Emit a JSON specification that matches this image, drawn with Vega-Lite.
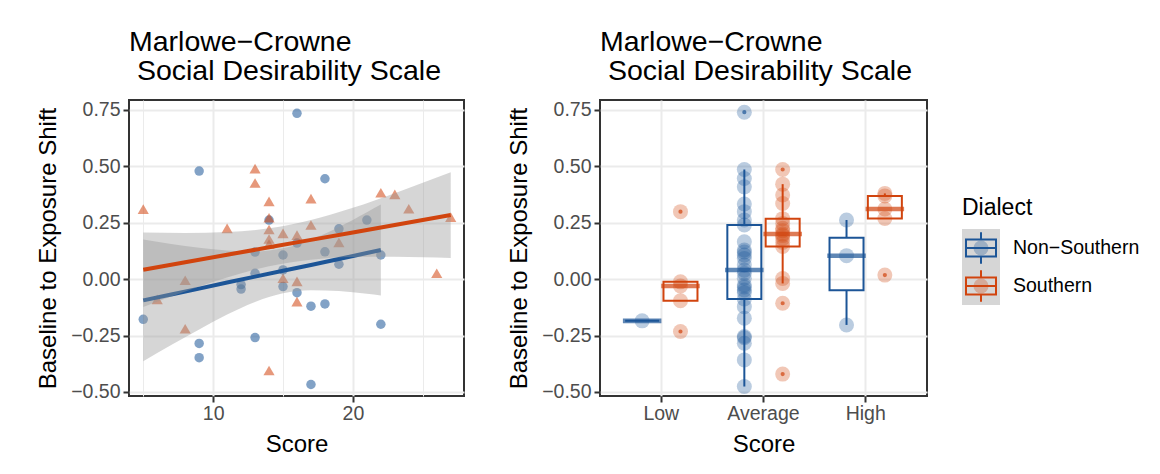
{
  "$schema": "https://vega.github.io/schema/vega-lite/v6.json",
  "background": "white",
  "padding": {"left": 35, "top": 27, "right": 5, "bottom": 5},
  "config": {
    "font": "Liberation Sans",
    "view": {"stroke": "#333333", "strokeWidth": 2},
    "axis": {"domain": false, "tickColor": "#333333", "tickSize": 6, "tickWidth": 2, "labelColor": "#4d4d4d", "labelFontSize": 19.5, "titleFontSize": 24, "titleFontWeight": "normal", "titleColor": "black", "titlePadding": 10, "gridColor": "#ebebeb", "gridWidth": 2, "labelFont": "Liberation Sans", "titleFont": "Liberation Sans"},
    "axisX": {"labelPadding": 2},
    "axisY": {"labelPadding": 3},
    "title": {"fontSize": 28.5, "fontWeight": "normal", "anchor": "start", "frame": "group", "color": "black", "lineHeight": 29, "offset": 14, "font": "Liberation Sans"}
  },
  "datasets": {
    "scatter": [
      {"Score": 5, "Shift": -0.178, "Dialect": "Non−Southern"},
      {"Score": 9, "Shift": 0.479, "Dialect": "Non−Southern"},
      {"Score": 9, "Shift": -0.285, "Dialect": "Non−Southern"},
      {"Score": 9, "Shift": -0.348, "Dialect": "Non−Southern"},
      {"Score": 12, "Shift": -0.024, "Dialect": "Non−Southern"},
      {"Score": 12, "Shift": -0.044, "Dialect": "Non−Southern"},
      {"Score": 13, "Shift": 0.12, "Dialect": "Non−Southern"},
      {"Score": 13, "Shift": 0.026, "Dialect": "Non−Southern"},
      {"Score": 13, "Shift": -0.259, "Dialect": "Non−Southern"},
      {"Score": 14, "Shift": 0.262, "Dialect": "Non−Southern"},
      {"Score": 15, "Shift": 0.107, "Dialect": "Non−Southern"},
      {"Score": 15, "Shift": 0.041, "Dialect": "Non−Southern"},
      {"Score": 15, "Shift": -0.033, "Dialect": "Non−Southern"},
      {"Score": 16, "Shift": 0.735, "Dialect": "Non−Southern"},
      {"Score": 16, "Shift": 0.16, "Dialect": "Non−Southern"},
      {"Score": 16, "Shift": -0.06, "Dialect": "Non−Southern"},
      {"Score": 17, "Shift": -0.12, "Dialect": "Non−Southern"},
      {"Score": 17, "Shift": -0.467, "Dialect": "Non−Southern"},
      {"Score": 18, "Shift": 0.445, "Dialect": "Non−Southern"},
      {"Score": 18, "Shift": 0.121, "Dialect": "Non−Southern"},
      {"Score": 18, "Shift": -0.11, "Dialect": "Non−Southern"},
      {"Score": 19, "Shift": 0.223, "Dialect": "Non−Southern"},
      {"Score": 19, "Shift": 0.066, "Dialect": "Non−Southern"},
      {"Score": 21, "Shift": 0.262, "Dialect": "Non−Southern"},
      {"Score": 22, "Shift": 0.107, "Dialect": "Non−Southern"},
      {"Score": 22, "Shift": -0.2, "Dialect": "Non−Southern"},
      {"Score": 5, "Shift": 0.31, "Dialect": "Southern"},
      {"Score": 6, "Shift": -0.09, "Dialect": "Southern"},
      {"Score": 8, "Shift": -0.005, "Dialect": "Southern"},
      {"Score": 8, "Shift": -0.22, "Dialect": "Southern"},
      {"Score": 11, "Shift": 0.225, "Dialect": "Southern"},
      {"Score": 13, "Shift": 0.49, "Dialect": "Southern"},
      {"Score": 13, "Shift": 0.426, "Dialect": "Southern"},
      {"Score": 14, "Shift": 0.345, "Dialect": "Southern"},
      {"Score": 14, "Shift": 0.272, "Dialect": "Southern"},
      {"Score": 14, "Shift": 0.22, "Dialect": "Southern"},
      {"Score": 14, "Shift": 0.178, "Dialect": "Southern"},
      {"Score": 14, "Shift": 0.155, "Dialect": "Southern"},
      {"Score": 14, "Shift": -0.405, "Dialect": "Southern"},
      {"Score": 15, "Shift": 0.203, "Dialect": "Southern"},
      {"Score": 15, "Shift": 0.004, "Dialect": "Southern"},
      {"Score": 16, "Shift": 0.195, "Dialect": "Southern"},
      {"Score": 16, "Shift": -0.01, "Dialect": "Southern"},
      {"Score": 16, "Shift": -0.1, "Dialect": "Southern"},
      {"Score": 17, "Shift": 0.357, "Dialect": "Southern"},
      {"Score": 17, "Shift": 0.24, "Dialect": "Southern"},
      {"Score": 19, "Shift": 0.163, "Dialect": "Southern"},
      {"Score": 22, "Shift": 0.383, "Dialect": "Southern"},
      {"Score": 23, "Shift": 0.376, "Dialect": "Southern"},
      {"Score": 24, "Shift": 0.312, "Dialect": "Southern"},
      {"Score": 26, "Shift": 0.026, "Dialect": "Southern"},
      {"Score": 27, "Shift": 0.275, "Dialect": "Southern"}
    ],
    "fit": [
      {"Score": 5, "Dialect": "Non−Southern", "Fit": -0.094, "Lower": -0.364, "Upper": 0.176},
      {"Score": 7, "Dialect": "Non−Southern", "Fit": -0.068, "Lower": -0.292, "Upper": 0.156},
      {"Score": 9, "Dialect": "Non−Southern", "Fit": -0.042, "Lower": -0.223, "Upper": 0.139},
      {"Score": 11, "Dialect": "Non−Southern", "Fit": -0.015, "Lower": -0.157, "Upper": 0.127},
      {"Score": 13, "Dialect": "Non−Southern", "Fit": 0.011, "Lower": -0.101, "Upper": 0.123},
      {"Score": 15, "Dialect": "Non−Southern", "Fit": 0.037, "Lower": -0.063, "Upper": 0.137},
      {"Score": 17, "Dialect": "Non−Southern", "Fit": 0.063, "Lower": -0.049, "Upper": 0.175},
      {"Score": 19, "Dialect": "Non−Southern", "Fit": 0.089, "Lower": -0.053, "Upper": 0.231},
      {"Score": 21, "Dialect": "Non−Southern", "Fit": 0.116, "Lower": -0.065, "Upper": 0.297},
      {"Score": 22, "Dialect": "Non−Southern", "Fit": 0.129, "Lower": -0.073, "Upper": 0.331},
      {"Score": 5, "Dialect": "Southern", "Fit": 0.042, "Lower": -0.123, "Upper": 0.207},
      {"Score": 8, "Dialect": "Southern", "Fit": 0.075, "Lower": -0.055, "Upper": 0.205},
      {"Score": 11, "Dialect": "Southern", "Fit": 0.108, "Lower": 0.007, "Upper": 0.209},
      {"Score": 14, "Dialect": "Southern", "Fit": 0.141, "Lower": 0.057, "Upper": 0.225},
      {"Score": 17, "Dialect": "Southern", "Fit": 0.174, "Lower": 0.086, "Upper": 0.262},
      {"Score": 20, "Dialect": "Southern", "Fit": 0.207, "Lower": 0.098, "Upper": 0.316},
      {"Score": 23, "Dialect": "Southern", "Fit": 0.24, "Lower": 0.099, "Upper": 0.381},
      {"Score": 25, "Dialect": "Southern", "Fit": 0.262, "Lower": 0.097, "Upper": 0.427},
      {"Score": 27, "Dialect": "Southern", "Fit": 0.284, "Lower": 0.094, "Upper": 0.474}
    ],
    "box": [
      {"Level": "Low", "Dialect": "Non−Southern", "Shift": -0.185},
      {"Level": "Average", "Dialect": "Non−Southern", "Shift": -0.476},
      {"Level": "Average", "Dialect": "Non−Southern", "Shift": -0.358},
      {"Level": "Average", "Dialect": "Non−Southern", "Shift": -0.284},
      {"Level": "Average", "Dialect": "Non−Southern", "Shift": -0.26},
      {"Level": "Average", "Dialect": "Non−Southern", "Shift": -0.254},
      {"Level": "Average", "Dialect": "Non−Southern", "Shift": -0.173},
      {"Level": "Average", "Dialect": "Non−Southern", "Shift": -0.122},
      {"Level": "Average", "Dialect": "Non−Southern", "Shift": -0.088},
      {"Level": "Average", "Dialect": "Non−Southern", "Shift": -0.06},
      {"Level": "Average", "Dialect": "Non−Southern", "Shift": -0.048},
      {"Level": "Average", "Dialect": "Non−Southern", "Shift": -0.035},
      {"Level": "Average", "Dialect": "Non−Southern", "Shift": -0.026},
      {"Level": "Average", "Dialect": "Non−Southern", "Shift": 0.004},
      {"Level": "Average", "Dialect": "Non−Southern", "Shift": 0.026},
      {"Level": "Average", "Dialect": "Non−Southern", "Shift": 0.04},
      {"Level": "Average", "Dialect": "Non−Southern", "Shift": 0.063},
      {"Level": "Average", "Dialect": "Non−Southern", "Shift": 0.092},
      {"Level": "Average", "Dialect": "Non−Southern", "Shift": 0.107},
      {"Level": "Average", "Dialect": "Non−Southern", "Shift": 0.12},
      {"Level": "Average", "Dialect": "Non−Southern", "Shift": 0.129},
      {"Level": "Average", "Dialect": "Non−Southern", "Shift": 0.166},
      {"Level": "Average", "Dialect": "Non−Southern", "Shift": 0.24},
      {"Level": "Average", "Dialect": "Non−Southern", "Shift": 0.262},
      {"Level": "Average", "Dialect": "Non−Southern", "Shift": 0.299},
      {"Level": "Average", "Dialect": "Non−Southern", "Shift": 0.333},
      {"Level": "Average", "Dialect": "Non−Southern", "Shift": 0.409},
      {"Level": "Average", "Dialect": "Non−Southern", "Shift": 0.446},
      {"Level": "Average", "Dialect": "Non−Southern", "Shift": 0.486},
      {"Level": "Average", "Dialect": "Non−Southern", "Shift": 0.74},
      {"Level": "High", "Dialect": "Non−Southern", "Shift": -0.203},
      {"Level": "High", "Dialect": "Non−Southern", "Shift": 0.104},
      {"Level": "High", "Dialect": "Non−Southern", "Shift": 0.262},
      {"Level": "Low", "Dialect": "Southern", "Shift": -0.232},
      {"Level": "Low", "Dialect": "Southern", "Shift": -0.096},
      {"Level": "Low", "Dialect": "Southern", "Shift": -0.03},
      {"Level": "Low", "Dialect": "Southern", "Shift": -0.012},
      {"Level": "Low", "Dialect": "Southern", "Shift": 0.299},
      {"Level": "Average", "Dialect": "Southern", "Shift": -0.421},
      {"Level": "Average", "Dialect": "Southern", "Shift": -0.107},
      {"Level": "Average", "Dialect": "Southern", "Shift": -0.019},
      {"Level": "Average", "Dialect": "Southern", "Shift": 0.003},
      {"Level": "Average", "Dialect": "Southern", "Shift": 0.145},
      {"Level": "Average", "Dialect": "Southern", "Shift": 0.163},
      {"Level": "Average", "Dialect": "Southern", "Shift": 0.18},
      {"Level": "Average", "Dialect": "Southern", "Shift": 0.193},
      {"Level": "Average", "Dialect": "Southern", "Shift": 0.2},
      {"Level": "Average", "Dialect": "Southern", "Shift": 0.215},
      {"Level": "Average", "Dialect": "Southern", "Shift": 0.225},
      {"Level": "Average", "Dialect": "Southern", "Shift": 0.247},
      {"Level": "Average", "Dialect": "Southern", "Shift": 0.268},
      {"Level": "Average", "Dialect": "Southern", "Shift": 0.335},
      {"Level": "Average", "Dialect": "Southern", "Shift": 0.373},
      {"Level": "Average", "Dialect": "Southern", "Shift": 0.421},
      {"Level": "Average", "Dialect": "Southern", "Shift": 0.486},
      {"Level": "High", "Dialect": "Southern", "Shift": 0.018},
      {"Level": "High", "Dialect": "Southern", "Shift": 0.269},
      {"Level": "High", "Dialect": "Southern", "Shift": 0.311},
      {"Level": "High", "Dialect": "Southern", "Shift": 0.369},
      {"Level": "High", "Dialect": "Southern", "Shift": 0.38}
    ],
    "keys": [
      {"Dialect": "Non−Southern"},
      {"Dialect": "Southern"}
    ]
  },
  "hconcat": [
    {
      "spacing": 41,
      "hconcat": [
        {
          "width": 335,
          "height": 296,
          "title": {"text": ["Marlowe−Crowne", "\u200b\u00a0Social Desirability Scale"]},
          "layer": [
            {
              "data": {"name": "scatter"},
              "mark": {"type": "point", "filled": true, "opacity": 0.55, "strokeWidth": 0},
              "encoding": {
                "x": {"field": "Score", "type": "quantitative", "title": "Score", "scale": {"domain": [3.98, 27.95], "nice": false, "zero": false},
                  "axis": {"grid": true, "values": [5, 10, 15, 20, 25],
                    "labelExpr": "datum.value % 10 === 0 ? datum.label : ''",
                    "tickOpacity": {"condition": {"test": "datum.value % 10 === 0", "value": 1}, "value": 0},
                    "gridWidth": {"condition": {"test": "datum.value % 10 === 0", "value": 2}, "value": 1}}},
                "y": {"field": "Shift", "type": "quantitative", "title": "Baseline to Exposure Shift", "scale": {"domain": [-0.518, 0.794], "nice": false, "zero": false},
                  "axis": {"grid": true, "format": ".2f",
                    "values": [-0.5, -0.375, -0.25, -0.125, 0, 0.125, 0.25, 0.375, 0.5, 0.625, 0.75],
                    "labelExpr": "(datum.value * 4) % 1 === 0 ? datum.label : ''",
                    "tickOpacity": {"condition": {"test": "(datum.value * 4) % 1 === 0", "value": 1}, "value": 0},
                    "gridWidth": {"condition": {"test": "(datum.value * 4) % 1 === 0", "value": 2}, "value": 1}}},
                "color": {"field": "Dialect", "type": "nominal", "scale": {"domain": ["Non−Southern", "Southern"], "range": ["#1c5597", "#d1440e"]}, "legend": null},
                "shape": {"field": "Dialect", "type": "nominal", "scale": {"domain": ["Non−Southern", "Southern"], "range": ["circle", "triangle-up"]}, "legend": null},
                "size": {"field": "Dialect", "type": "ordinal", "scale": {"domain": ["Non−Southern", "Southern"], "range": [90, 125]}, "legend": null}
              }
            },
            {
              "data": {"name": "fit"},
              "transform": [{"filter": "datum.Dialect === 'Non−Southern'"}],
              "mark": {"type": "area", "color": "#999999", "opacity": 0.4, "interpolate": "monotone"},
              "encoding": {
                "x": {"field": "Score", "type": "quantitative", "title": "Score"},
                "y": {"field": "Lower", "type": "quantitative", "title": "Baseline to Exposure Shift"},
                "y2": {"field": "Upper"}
              }
            },
            {
              "data": {"name": "fit"},
              "transform": [{"filter": "datum.Dialect === 'Non−Southern'"}],
              "mark": {"type": "line", "strokeWidth": 4},
              "encoding": {
                "x": {"field": "Score", "type": "quantitative", "title": "Score"},
                "y": {"field": "Fit", "type": "quantitative", "title": "Baseline to Exposure Shift"},
                "color": {"field": "Dialect", "type": "nominal", "scale": {"domain": ["Non−Southern", "Southern"], "range": ["#1c5597", "#d1440e"]}, "legend": null}
              }
            },
            {
              "data": {"name": "fit"},
              "transform": [{"filter": "datum.Dialect === 'Southern'"}],
              "mark": {"type": "area", "color": "#999999", "opacity": 0.4, "interpolate": "monotone"},
              "encoding": {
                "x": {"field": "Score", "type": "quantitative", "title": "Score"},
                "y": {"field": "Lower", "type": "quantitative", "title": "Baseline to Exposure Shift"},
                "y2": {"field": "Upper"}
              }
            },
            {
              "data": {"name": "fit"},
              "transform": [{"filter": "datum.Dialect === 'Southern'"}],
              "mark": {"type": "line", "strokeWidth": 4},
              "encoding": {
                "x": {"field": "Score", "type": "quantitative", "title": "Score"},
                "y": {"field": "Fit", "type": "quantitative", "title": "Baseline to Exposure Shift"},
                "color": {"field": "Dialect", "type": "nominal", "scale": {"domain": ["Non−Southern", "Southern"], "range": ["#1c5597", "#d1440e"]}, "legend": null}
              }
            }
          ]
        },
        {
          "width": 327,
          "height": 296,
          "title": {"text": ["Marlowe−Crowne", "\u200b\u00a0Social Desirability Scale"]},
          "data": {"name": "box"},
          "layer": [
            {
              "mark": {"type": "circle", "size": 225, "opacity": 0.3},
              "encoding": {
                "x": {"field": "Level", "type": "nominal", "title": "Score", "sort": ["Low", "Average", "High"], "scale": {"paddingInner": 0, "paddingOuter": 0.1},
                  "axis": {"labelAngle": 0, "grid": true, "gridWidth": 2}},
                "xOffset": {"field": "Dialect", "type": "nominal", "sort": ["Non−Southern", "Southern"], "scale": {"domain": ["Non−Southern", "Southern"], "paddingInner": 0, "paddingOuter": 0.333}},
                "y": {"field": "Shift", "type": "quantitative", "title": "Baseline to Exposure Shift", "scale": {"domain": [-0.518, 0.794], "nice": false, "zero": false},
                  "axis": {"grid": true, "format": ".2f",
                    "values": [-0.5, -0.375, -0.25, -0.125, 0, 0.125, 0.25, 0.375, 0.5, 0.625, 0.75],
                    "labelExpr": "(datum.value * 4) % 1 === 0 ? datum.label : ''",
                    "tickOpacity": {"condition": {"test": "(datum.value * 4) % 1 === 0", "value": 1}, "value": 0},
                    "gridWidth": {"condition": {"test": "(datum.value * 4) % 1 === 0", "value": 2}, "value": 1}}},
                "color": {"field": "Dialect", "type": "nominal", "scale": {"domain": ["Non−Southern", "Southern"], "range": ["#1c5597", "#d1440e"]}, "legend": null}
              }
            },
            {
              "mark": {"type": "boxplot", "extent": 1.5, "size": 34,
                "box": {"fill": "transparent", "strokeWidth": 2},
                "median": {"thickness": 0.01, "strokeWidth": 4.5, "fill": "transparent"},
                "rule": {"strokeWidth": 2},
                "outliers": {"size": 4, "strokeWidth": 2.2}},
              "encoding": {
                "x": {"field": "Level", "type": "nominal", "title": "Score", "sort": ["Low", "Average", "High"]},
                "xOffset": {"field": "Dialect", "type": "nominal", "sort": ["Non−Southern", "Southern"]},
                "y": {"field": "Shift", "type": "quantitative", "title": "Baseline to Exposure Shift"},
                "stroke": {"field": "Dialect", "type": "nominal", "scale": {"domain": ["Non−Southern", "Southern"], "range": ["#1c5597", "#d1440e"]}, "legend": null}
              }
            }
          ]
        }
      ]
    },
    {
      "hconcat": [
        {
          "width": 38,
          "height": 290,
          "view": {"stroke": null},
          "title": {"text": "Dialect", "fontSize": 23, "offset": -138, "baseline": "alphabetic"},
          "data": {"name": "keys"},
          "encoding": {
            "y": {"field": "Dialect", "type": "nominal", "sort": ["Non−Southern", "Southern"], "scale": {"domain": ["Non−Southern", "Southern"], "range": [129, 205], "paddingInner": 0, "paddingOuter": 0}, "axis": null}
          },
          "layer": [
            {"mark": {"type": "point", "shape": "square", "filled": true, "size": 1444, "color": "#d6d6d6", "opacity": 1, "strokeWidth": 0}},
            {"mark": {"type": "circle", "size": 225, "opacity": 0.3},
              "encoding": {"color": {"field": "Dialect", "type": "nominal", "scale": {"domain": ["Non−Southern", "Southern"], "range": ["#1c5597", "#d1440e"]}, "legend": null}}},
            {"mark": {"type": "point", "shape": "M-1,-0.57H1V0.57H-1Z M-1,0H1 M0,-0.57V-1.05 M0,0.57V1.05", "size": 900, "strokeWidth": 2, "filled": false, "opacity": 1},
              "encoding": {"color": {"field": "Dialect", "type": "nominal", "scale": {"domain": ["Non−Southern", "Southern"], "range": ["#1c5597", "#d1440e"]}, "legend": null}}},
            {"mark": {"type": "text", "align": "left", "baseline": "middle", "dx": 32, "fontSize": 19.5, "color": "black"},
              "encoding": {"text": {"field": "Dialect", "type": "nominal"}}}
          ]
        }
      ]
    }
  ],
  "spacing": 34
}
